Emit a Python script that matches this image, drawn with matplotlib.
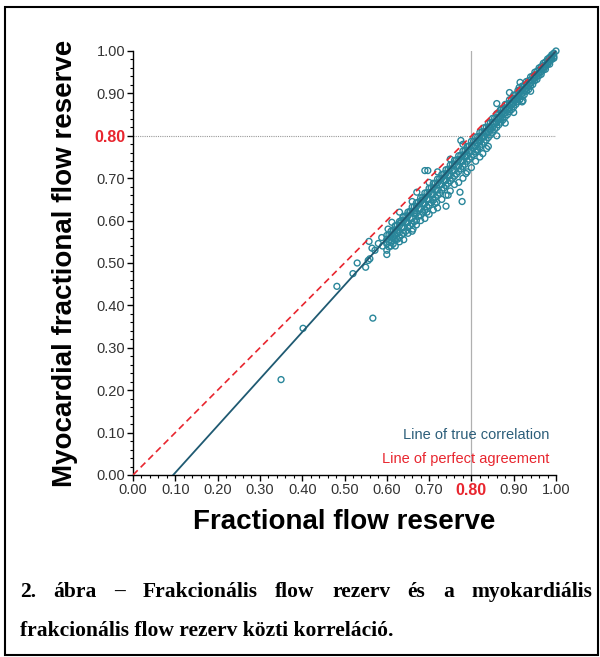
import matplotlib
matplotlib.use('Agg')
import matplotlib.pyplot as plt
from matplotlib.patches import Rectangle

# scatter data: FFR (x) vs myocardial FFR (y)
band_x = [0.60, 0.61, 0.62, 0.63, 0.64, 0.65, 0.66, 0.67, 0.68, 0.69,
          0.70, 0.71, 0.72, 0.73, 0.74, 0.75, 0.76, 0.77, 0.78, 0.79,
          0.80, 0.81, 0.82, 0.83, 0.84, 0.85, 0.86, 0.87, 0.88, 0.89,
          0.90, 0.91, 0.92, 0.93, 0.94, 0.95, 0.96, 0.97, 0.98, 0.99]
band_y = [(.545, .556, .565, .530), (.552, .566, .575, .540), (.565, .578, .588, .555),
          (.572, .588, .598, .560), (.585, .600, .610, .570), (.596, .611, .620, .585),
          (.605, .621, .632, .592), (.617, .633, .642, .600), (.628, .644, .654, .612),
          (.640, .655, .665, .625), (.650, .666, .676, .636), (.662, .677, .688, .648),
          (.672, .689, .698, .660), (.685, .700, .709, .672), (.695, .711, .720, .683),
          (.706, .722, .731, .694), (.718, .733, .742, .705), (.729, .744, .753, .716),
          (.740, .755, .764, .728), (.752, .766, .775, .740), (.763, .777, .787, .750),
          (.775, .788, .797, .762), (.786, .799, .808, .773), (.797, .810, .819, .785),
          (.808, .821, .830, .796), (.820, .832, .841, .808), (.831, .843, .852, .820),
          (.842, .854, .863, .832), (.854, .866, .874, .845), (.866, .877, .885, .857),
          (.877, .888, .896, .868), (.889, .899, .907, .880), (.900, .910, .917, .893),
          (.912, .921, .928, .905), (.924, .932, .939, .917), (.936, .944, .950, .930),
          (.948, .955, .960, .942), (.960, .966, .971, .955), (.972, .977, .981, .968),
          (.984, .988, .991, .980)]

band2_x = [0.605, 0.615, 0.625, 0.635, 0.645, 0.655, 0.665, 0.675, 0.685, 0.695,
           0.705, 0.715, 0.725, 0.735, 0.745, 0.755, 0.765, 0.775, 0.785, 0.795,
           0.805, 0.815, 0.825, 0.835, 0.845, 0.855, 0.865, 0.875, 0.885, 0.895,
           0.905, 0.915, 0.925, 0.935, 0.945, 0.955, 0.965, 0.975, 0.985, 0.995]
band2_y = [(.550, .566, .538), (.562, .578, .545), (.572, .589, .556), (.584, .600, .566),
           (.594, .611, .575), (.606, .622, .588), (.617, .633, .598), (.628, .644, .610),
           (.640, .655, .620), (.650, .666, .632), (.662, .677, .642), (.672, .688, .655),
           (.684, .699, .665), (.694, .710, .677), (.706, .721, .688), (.717, .732, .700),
           (.728, .743, .710), (.739, .754, .722), (.750, .765, .733), (.761, .776, .745),
           (.772, .787, .756), (.783, .798, .768), (.795, .809, .780), (.806, .820, .790),
           (.817, .831, .802), (.828, .842, .815), (.839, .853, .826), (.850, .864, .838),
           (.861, .875, .850), (.873, .886, .862), (.884, .897, .874), (.895, .908, .886),
           (.906, .919, .897), (.917, .930, .909), (.929, .941, .921), (.940, .952, .933),
           (.951, .963, .945), (.963, .974, .957), (.975, .985, .969), (.987, .995, .983)]

outlier_x = [0.350, 0.402, 0.567, 0.482, 0.520, 0.530, 0.550, 0.560, 0.556, 0.565,
             0.572, 0.580, 0.588, 0.558, 0.590, 0.603, 0.615, 0.612, 0.624, 0.631,
             0.638, 0.662, 0.648, 0.655, 0.667, 0.671, 0.695, 0.714, 0.718, 0.740,
             0.773, 0.778, 0.745, 0.683, 0.690, 0.697, 0.775, 0.787, 0.827, 0.836,
             0.860, 0.890, 0.915, 0.922, 0.913, 0.900, 0.868, 0.844, 0.820, 0.813,
             1.000,
             0.600, 0.620, 0.630, 0.640, 0.650, 0.660, 0.670, 0.680, 0.690, 0.700,
             0.710, 0.720, 0.730, 0.740, 0.750, 0.760, 0.770, 0.780, 0.790, 0.800,
             0.810, 0.820, 0.840, 0.860, 0.880, 0.900, 0.920, 0.940,
             0.700, 0.720, 0.750, 0.780, 0.660, 0.630]
outlier_y = [0.225, 0.346, 0.370, 0.445, 0.475, 0.500, 0.490, 0.510, 0.506, 0.535,
             0.530, 0.546, 0.560, 0.551, 0.540, 0.580, 0.558, 0.596, 0.577, 0.594,
             0.608, 0.580, 0.596, 0.620, 0.624, 0.667, 0.620, 0.640, 0.643, 0.634,
             0.667, 0.645, 0.660, 0.648, 0.718, 0.718, 0.789, 0.711, 0.758, 0.770,
             0.876, 0.902, 0.926, 0.883, 0.914, 0.883, 0.860, 0.813, 0.789, 0.766,
             1.000,
             0.520, 0.540, 0.550, 0.555, 0.570, 0.575, 0.590, 0.600, 0.605, 0.615,
             0.625, 0.630, 0.650, 0.660, 0.670, 0.685, 0.690, 0.700, 0.715, 0.725,
             0.740, 0.750, 0.775, 0.800, 0.830, 0.855, 0.880, 0.905,
             0.690, 0.715, 0.745, 0.780, 0.645, 0.620]

# regression line end points and line of identity
fit_x = [0.095, 1.0]
fit_y = [0.0, 1.0]
ident_x = [0.0, 1.0]
ident_y = [0.0, 1.0]
cutoff = 0.80

tick_vals = [0.0, 0.1, 0.2, 0.3, 0.4, 0.5, 0.6, 0.7, 0.8, 0.9, 1.0]
tick_labels = ['0.00', '0.10', '0.20', '0.30', '0.40', '0.50',
               '0.60', '0.70', '0.80', '0.90', '1.00']

caption1 = ['2.', 'ábra', '–', 'Frakcionális', 'flow', 'rezerv', 'és', 'a', 'myokardiális']
caption2 = 'frakcionális flow rezerv közti korreláció.'

xs = []
ys = []
for bx, group in zip(band_x + band2_x, band_y + band2_y):
    for v in group:
        xs.append(bx)
        ys.append(v)
xs += outlier_x
ys += outlier_y

plt.rcParams['font.family'] = ['Liberation Sans', 'DejaVu Sans']

fig = plt.figure(figsize=(6, 6.57), dpi=100)
ax = fig.add_axes([133/600, 182/657, 423/600, 424/657])

ax.axvline(cutoff, ymin=0, ymax=1, color='#b0b0b0', lw=0.9, zorder=1)
ax.axhline(cutoff, xmin=0, xmax=1, color='#999999', lw=0.8, ls=(0, (1, 1)), zorder=1)

ax.scatter(xs, ys, s=18, facecolors='none', edgecolors='#29869a', linewidths=1.0,
           clip_on=False, zorder=3)
ax.plot(ident_x, ident_y, color='#e8262f', lw=1.2, ls=(0, (4, 2.5)), zorder=4)
ax.plot(fit_x, fit_y, color='#1f5a72', lw=1.3, zorder=5)

ax.set_xlim(0, 1)
ax.set_ylim(0, 1)
for s in ['top', 'right']:
    ax.spines[s].set_visible(False)
ax.spines['left'].set_linewidth(1.0)
ax.spines['bottom'].set_linewidth(1.0)

ax.set_xticks(tick_vals)
ax.set_yticks(tick_vals)
ax.set_xticklabels(tick_labels)
ax.set_yticklabels(tick_labels)
ax.set_xticks([i / 50 for i in range(51)], minor=True)
ax.set_yticks([i / 50 for i in range(51)], minor=True)
ax.tick_params(which='major', direction='out', length=4, width=1.0,
               labelsize=10.5, labelcolor='#333333', pad=1.5)
ax.tick_params(which='minor', direction='out', length=2.2, width=0.8)
for lab in ax.get_xticklabels() + ax.get_yticklabels():
    if lab.get_text() == '0.80':
        lab.set_color('#e8262f')
        lab.set_fontweight('bold')
        lab.set_fontsize(11.5)

ax.set_xlabel('Fractional flow reserve', fontsize=20, fontweight='bold', labelpad=8)
ax.set_ylabel('Myocardial fractional flow reserve', fontsize=20, fontweight='bold', labelpad=12)

ax.text(0.985, 0.095, 'Line of true correlation', color='#2c5e7a', fontsize=10.5,
        ha='right', va='center', transform=ax.transAxes)
ax.text(0.985, 0.037, 'Line of perfect agreement', color='#e8262f', fontsize=10.5,
        ha='right', va='center', transform=ax.transAxes)

# frame around the whole figure
fig.patches.append(Rectangle((5/600, 2/657), 593/600, 648/657, transform=fig.transFigure,
                             fill=False, edgecolor='black', lw=1.5))

# justified caption, first line
fig.canvas.draw()
renderer = fig.canvas.get_renderer()
left, right = 20/600, 592/600
y1 = 1 - 592/657
words = []
total = 0
for w in caption1:
    t = fig.text(0, y1, w, fontsize=15.5, fontweight='bold', family='Liberation Serif',
                 va='center', ha='left')
    bb = t.get_window_extent(renderer)
    words.append((t, bb.width / fig.bbox.width))
    total += bb.width / fig.bbox.width
gap = (right - left - total) / (len(words) - 1)
pos = left
for t, wd in words:
    t.set_x(pos)
    pos += wd + gap
fig.text(left, 1 - 631/657, caption2, fontsize=15.5, fontweight='bold',
         family='Liberation Serif', va='center', ha='left')

fig.savefig('out.png', dpi=100)
